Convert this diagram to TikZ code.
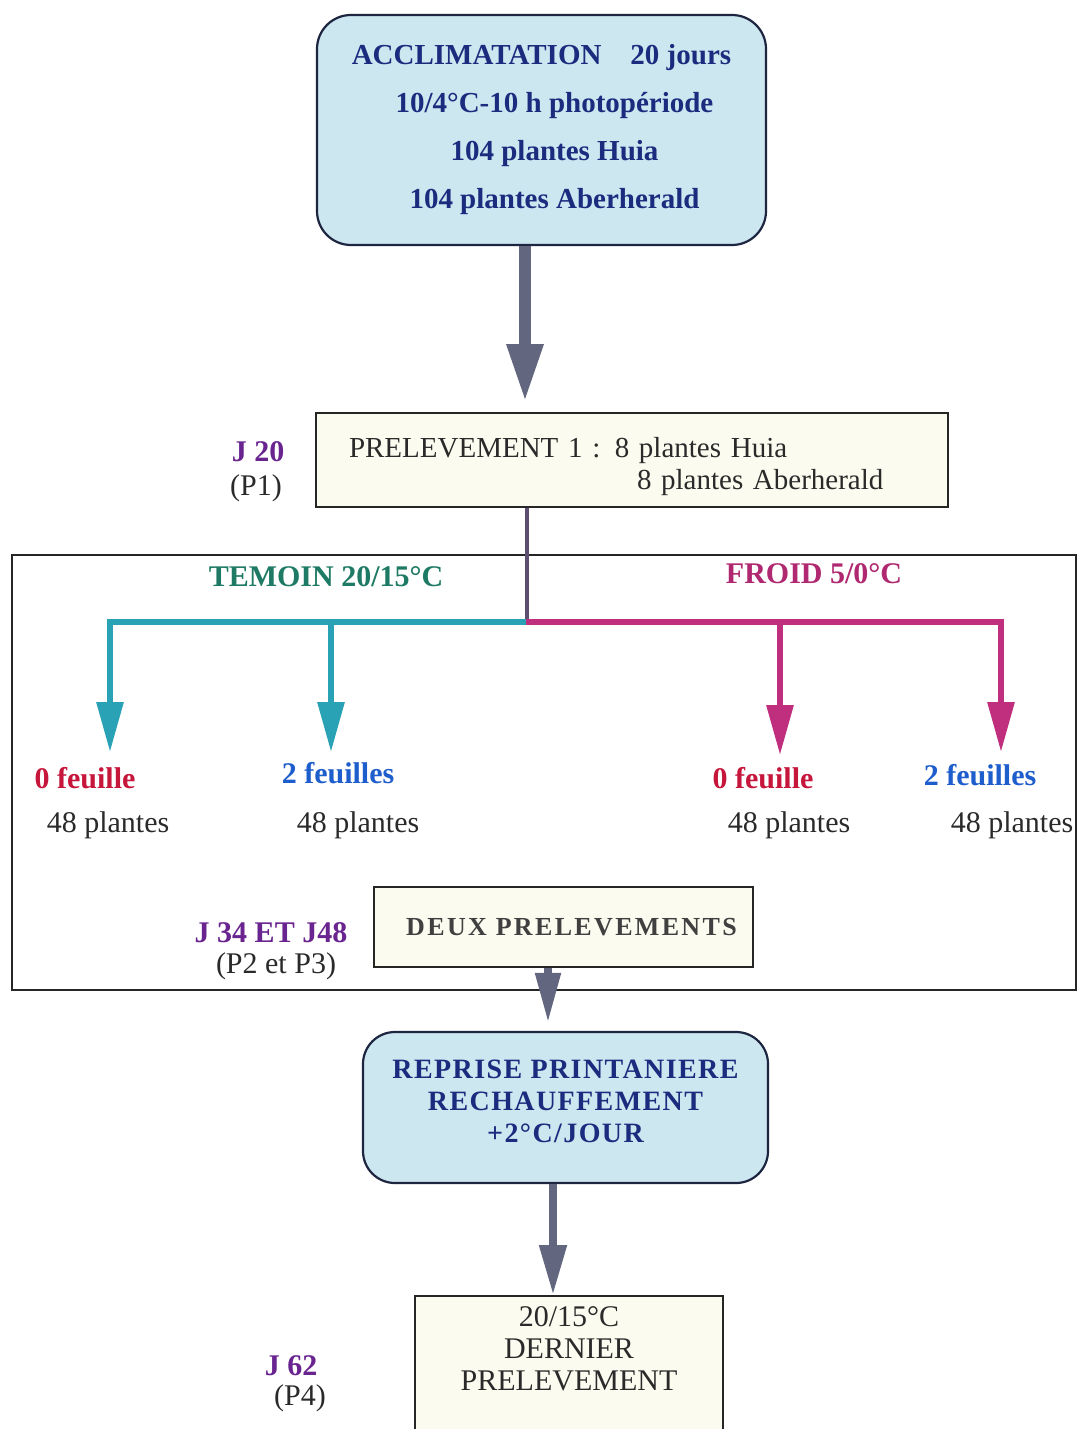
\documentclass[tikz,border=0pt]{standalone}
\usepackage{fontspec}
\setmainfont{Liberation Serif}
\usetikzlibrary{arrows.meta}
\definecolor{boxblue}{HTML}{CDE7F1}
\definecolor{boxedge}{HTML}{1E2540}
\definecolor{navy}{HTML}{1B2C7E}
\definecolor{paleyel}{HTML}{FBFBEF}
\definecolor{jpurple}{HTML}{6A2490}
\definecolor{tealc}{HTML}{2AA2B6}
\definecolor{magc}{HTML}{C02F7D}
\definecolor{temoinc}{HTML}{1E7A64}
\definecolor{froidc}{HTML}{B02870}
\definecolor{redc}{HTML}{C6163C}
\definecolor{bluec}{HTML}{1E5ECC}
\definecolor{greyarr}{HTML}{62667F}
\definecolor{spinec}{HTML}{5E4E72}
\definecolor{txtgrey}{HTML}{2A2A2A}
\tikzset{
  roundbox/.style={draw=boxedge, line width=1.1pt, rounded corners=17pt, fill=boxblue,
    text=navy, font=\fontsize{14.5}{24}\bfseries\selectfont, align=center, inner sep=0pt},
  sqbox/.style={draw=black!85, line width=1pt, fill=paleyel, inner sep=0pt},
  jlab/.style={text=jpurple, font=\fontsize{15}{18}\bfseries\selectfont, inner sep=0pt},
  plab/.style={text=txtgrey, font=\fontsize{15}{18}\selectfont, inner sep=0pt},
  feuil/.style={font=\fontsize{15}{18}\bfseries\selectfont, inner sep=0pt},
  bigarrow/.style={draw=greyarr, line width=6pt, -{Triangle[length=29pt,width=17pt]}},
  midarrow/.style={draw=greyarr, line width=4pt, -{Triangle[length=25pt,width=12pt]}},
  tealarr/.style={draw=tealc, line width=3pt, line join=miter, -{Triangle[length=25pt,width=13pt]}},
  magarr/.style={draw=magc, line width=3pt, line join=miter, -{Triangle[length=25pt,width=13pt]}},
}
\begin{document}
\begin{tikzpicture}[x=0.5pt,y=-0.5pt]
\clip (0,0) rectangle (1078,1429);
\fill[white] (0,0) rectangle (1078,1429);

% big frame
\draw[black!85, line width=1pt] (12,555) rectangle (1076,990);

% boxes
\node[roundbox, minimum width=224.5pt, minimum height=115pt] (acc) at (541.5,130)
  {ACCLIMATATION\quad 20 jours\\
   \hspace*{13pt}10/4°C-10 h photopériode\\
   \hspace*{13pt}104 plantes Huia\\
   \hspace*{13pt}104 plantes Aberherald};

\node[sqbox, minimum width=316pt, minimum height=47pt, text width=283pt, align=left,
      font=\fontsize{14.5}{16}\selectfont, text=txtgrey] (p1box) at (632,460)
  {\rule{0pt}{17pt}PRELEVEMENT 1 : 8 plantes Huia\\\hspace*{144pt}8 plantes Aberherald};

\node[sqbox, minimum width=189.5pt, minimum height=40pt, text=black!75,
      font=\fontsize{13}{16}\bfseries\addfontfeature{LetterSpace=9}\selectfont] (deux) at (563.5,927)
  {\hspace*{8pt}DEUX PRELEVEMENTS};

\node[roundbox, minimum width=202.5pt, minimum height=75.5pt, rounded corners=16pt,
      font=\fontsize{14}{16}\bfseries\addfontfeature{LetterSpace=5}\selectfont] (reprise) at (565.5,1107.5)
  {REPRISE PRINTANIERE\\RECHAUFFEMENT\\+2°C/JOUR\rule[-6pt]{0pt}{6pt}};

\node[sqbox, anchor=north, minimum width=154pt, align=center, text=txtgrey,
      font=\fontsize{15}{16}\selectfont, inner ysep=5.5pt, text depth=70pt] (last) at (569,1295)
  {20/15°C\\DERNIER\\PRELEVEMENT};

% side labels
\node[jlab] (j20) at (258,452) {J 20};
\node[plab] (pp1) at (256,488) {(P1)};
\node[jlab] (j34) at (271,933) {J 34 ET J48};
\node[plab] (pp23) at (276,966) {(P2 et P3)};
\node[jlab] (j62) at (291,1366) {J 62};
\node[plab] (pp4) at (300,1398) {(P4)};

% treatment titles
\node[feuil, text=temoinc] (temoin) at (326,577) {TEMOIN 20/15°C};
\node[feuil, text=froidc] (froid) at (814,574) {FROID 5/0°C};

% leaf labels
\node[feuil, text=redc] (f1) at (85,778) {0 feuille};
\node[feuil, text=bluec] (f2) at (338,773) {2 feuilles};
\node[feuil, text=redc] (f3) at (763,778) {0 feuille};
\node[feuil, text=bluec] (f4) at (980,775) {2 feuilles};
\node[plab] (n1) at (108,825) {48 plantes};
\node[plab] (n2) at (358,825) {48 plantes};
\node[plab] (n3) at (789,825) {48 plantes};
\node[plab] (n4) at (1012,825) {48 plantes};

% coordinates
\coordinate (spine) at (525,0);
\coordinate (j) at (527,622);
\coordinate (a1) at (110,752);
\coordinate (a2) at (331,752);
\coordinate (a3) at (780,755);
\coordinate (a4) at (1001,752);
\coordinate (c3) at (548,0);
\coordinate (c5) at (553,0);

% connectors
\draw[bigarrow, shorten >=5pt] (acc.south -| spine) -- (p1box.north -| spine);
\draw[spinec, line width=2.2pt] (p1box.south -| j) -- (j);
\draw[tealarr] ([xshift=0.75pt]j) -| (a1);
\draw[tealarr] (a2 |- j) -- (a2);
\draw[magarr] ([xshift=-0.75pt]j) -| (a4);
\draw[magarr] (a3 |- j) -- (a3);
\draw[midarrow, shorten >=4pt] (deux.south -| c3) -- (reprise.north -| c3);
\draw[bigarrow, line width=4pt, -{Triangle[length=25pt,width=13pt]}] (reprise.south -| c5) -- (last.north -| c5);
\end{tikzpicture}
\end{document}
